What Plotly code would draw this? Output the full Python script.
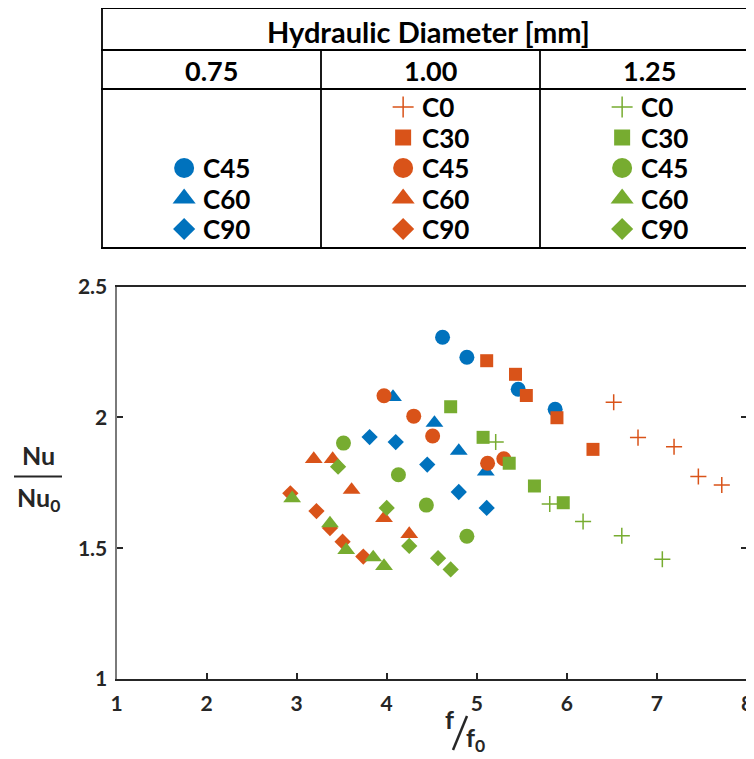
import plotly.graph_objects as go

# ---------------- data ----------------
diameters = ["0.75", "1.00", "1.25"]
configs = ["C0", "C30", "C45", "C60", "C90"]

# Hydraulic diameter 0.75 mm
d075_c45_x = [4.62, 4.89, 5.46, 5.87]
d075_c45_y = [2.307, 2.230, 2.108, 2.031]
d075_c60_x = [4.07, 4.53, 4.80, 5.10]
d075_c60_y = [2.078, 1.979, 1.872, 1.793]
d075_c90_x = [3.81, 4.10, 4.45, 4.80, 5.11]
d075_c90_y = [1.925, 1.906, 1.820, 1.715, 1.654]

# Hydraulic diameter 1.00 mm
d100_c0_x = [6.52, 6.79, 7.19, 7.46, 7.72]
d100_c0_y = [2.058, 1.923, 1.888, 1.774, 1.742]
d100_c30_x = [5.11, 5.43, 5.55, 5.89, 6.29]
d100_c30_y = [2.217, 2.165, 2.084, 1.999, 1.878]
d100_c45_x = [3.97, 4.30, 4.51, 5.12, 5.30]
d100_c45_y = [2.083, 2.005, 1.929, 1.825, 1.842]
d100_c60_x = [3.19, 3.40, 3.61, 3.97, 4.25]
d100_c60_y = [1.841, 1.841, 1.723, 1.615, 1.554]
d100_c90_x = [2.93, 3.22, 3.37, 3.51, 3.74]
d100_c90_y = [1.710, 1.642, 1.577, 1.525, 1.468]

# Hydraulic diameter 1.25 mm
d125_c0_x = [5.21, 5.81, 6.18, 6.61, 7.06]
d125_c0_y = [1.906, 1.669, 1.602, 1.548, 1.458]
d125_c30_x = [4.71, 5.07, 5.36, 5.64, 5.96]
d125_c30_y = [2.041, 1.924, 1.825, 1.738, 1.674]
d125_c45_x = [3.52, 4.13, 4.44, 4.89]
d125_c45_y = [1.902, 1.781, 1.665, 1.546]
d125_c60_x = [2.95, 3.37, 3.55, 3.85, 3.97]
d125_c60_y = [1.691, 1.595, 1.493, 1.465, 1.432]
d125_c90_x = [3.46, 4.00, 4.25, 4.57, 4.71]
d125_c90_y = [1.812, 1.654, 1.509, 1.462, 1.419]

x_ticks = [1, 2, 3, 4, 5, 6, 7, 8]
y_ticks = [1, 1.5, 2, 2.5]
y_ticktext = ["1", "1.5", "2", "2.5"]

# ---------------- styles ----------------
colors = {"0.75": "#0072BD", "1.00": "#D95319", "1.25": "#77AC30"}
symbols = {"C0": "cross-thin-open", "C30": "square", "C45": "circle",
           "C60": "triangle-up", "C90": "diamond"}
plot_sizes = {"C0": 11.5, "C30": 13, "C45": 15, "C60": 15.5, "C90": 12.5}
table_sizes = {"C0": 15, "C30": 16, "C45": 20, "C60": 20, "C90": 17}

series = [
    ("0.75", "C45", d075_c45_x, d075_c45_y),
    ("0.75", "C60", d075_c60_x, d075_c60_y),
    ("0.75", "C90", d075_c90_x, d075_c90_y),
    ("1.00", "C0", d100_c0_x, d100_c0_y),
    ("1.00", "C30", d100_c30_x, d100_c30_y),
    ("1.00", "C45", d100_c45_x, d100_c45_y),
    ("1.00", "C60", d100_c60_x, d100_c60_y),
    ("1.00", "C90", d100_c90_x, d100_c90_y),
    ("1.25", "C0", d125_c0_x, d125_c0_y),
    ("1.25", "C30", d125_c30_x, d125_c30_y),
    ("1.25", "C45", d125_c45_x, d125_c45_y),
    ("1.25", "C60", d125_c60_x, d125_c60_y),
    ("1.25", "C90", d125_c90_x, d125_c90_y),
]

# ---------------- geometry helpers (screen pixels; page body has 8px margin) ----------------
OFF = 8
W, H = 754, 759
ML, MR, MT, MB = 92, 0, 0, 88
PW = W - ML - MR
PH = H - MT - MB


def px(sx):
    return (sx - OFF - ML) / PW


def py(sy):
    return (H - MB - (sy - OFF)) / PH


TXT = "#262626"
FONT = "Lato"

fig = go.Figure()

# main scatter
for d, c, xs, ys in series:
    col = colors[d]
    mk = dict(symbol=symbols[c], size=plot_sizes[c], color=col)
    if c == "C0":
        mk["line"] = dict(color=col, width=1.5)
    else:
        mk["line"] = dict(width=0)
    fig.add_trace(go.Scatter(x=xs, y=ys, mode="markers", marker=mk,
                             name=f"{d} {c}", showlegend=False,
                             xaxis="x", yaxis="y", cliponaxis=False))

# table legend (x2: column index, y2: row index)
COLW = 219.0
ROW0, ROWH = 107, 30.5
annotations = []
for ci, d in enumerate(diameters):
    present = sorted({c for dd, c, _, _ in series if dd == d}, key=configs.index)
    for c in present:
        ri = configs.index(c)
        col = colors[d]
        mk = dict(symbol=symbols[c], size=table_sizes[c], color=col)
        if c == "C0":
            mk["line"] = dict(color=col, width=1.5)
        else:
            mk["line"] = dict(width=0)
        fig.add_trace(go.Scatter(x=[ci + 0.5 - 0.125], y=[ri], mode="markers",
                                 marker=mk, showlegend=False,
                                 xaxis="x2", yaxis="y2", cliponaxis=False))
        annotations.append(dict(x=ci + 0.5 - 0.05, y=ri, xref="x2", yref="y2",
                                text=c, showarrow=False, xanchor="left",
                                yanchor="middle",
                                font=dict(family=FONT, size=26, color="black",
                                          weight="bold")))
    annotations.append(dict(x=ci + 0.5, y=py(70), xref="x2", yref="paper",
                            text=d, showarrow=False, xanchor="center",
                            yanchor="middle",
                            font=dict(family=FONT, size=27, color="black",
                                      weight="bold")))

annotations.append(dict(x=px(428.5), y=py(31), xref="paper", yref="paper",
                        text="Hydraulic Diameter [mm]", showarrow=False,
                        xanchor="center", yanchor="middle",
                        font=dict(family=FONT, size=29, color="black",
                                  weight="bold")))

# axis titles
lab_font = dict(family=FONT, size=25, color=TXT, weight="bold")
annotations += [
    dict(x=px(38), y=py(455), xref="paper", yref="paper", text="Nu",
         showarrow=False, xanchor="center", yanchor="middle", font=lab_font),
    dict(x=px(38), y=py(499), xref="paper", yref="paper", text="Nu<sub>0</sub>",
         showarrow=False, xanchor="center", yanchor="middle", font=lab_font),
    dict(x=px(449), y=py(719), xref="paper", yref="paper", text="f",
         showarrow=False, xanchor="center", yanchor="middle", font=lab_font),
    dict(x=px(475), y=py(758), xref="paper", yref="paper", text="f<sub>0</sub>",
         showarrow=False, xanchor="center", yanchor="bottom", font=lab_font),
]

shapes = []
LW = 1.8
# table grid
for yy in (8, 50, 89, 248):
    shapes.append(dict(type="line", xref="paper", yref="paper",
                       x0=px(101), x1=px(770), y0=py(yy), y1=py(yy),
                       line=dict(color="black", width=LW)))
shapes.append(dict(type="line", xref="paper", yref="paper",
                   x0=px(102), x1=px(102), y0=py(8), y1=py(248),
                   line=dict(color="black", width=LW)))
for xx in (321, 540):
    shapes.append(dict(type="line", xref="paper", yref="paper",
                       x0=px(xx), x1=px(xx), y0=py(50), y1=py(248),
                       line=dict(color="black", width=LW)))
# fraction bar & slash
shapes.append(dict(type="line", xref="paper", yref="paper",
                   x0=px(14), x1=px(62), y0=py(476.5), y1=py(476.5),
                   line=dict(color=TXT, width=2.2)))
shapes.append(dict(type="line", xref="paper", yref="paper",
                   x0=px(453), x1=px(467), y0=py(750), y1=py(716),
                   line=dict(color=TXT, width=2.5)))

tick_font = dict(family=FONT, size=21, color=TXT, weight="bold")

fig.update_layout(
    width=W, height=H,
    margin=dict(l=ML, r=MR, t=MT, b=MB, pad=0, autoexpand=False),
    paper_bgcolor="white", plot_bgcolor="white",
    showlegend=False,
    xaxis=dict(domain=[px(116.5), px(747)], range=[1, 8], tickvals=x_ticks,
               ticks="inside", ticklen=6, tickwidth=2, tickcolor=TXT,
               showline=True, linecolor=TXT, linewidth=2, mirror=True,
               showgrid=False, zeroline=False, tickfont=tick_font,
               ticklabelstandoff=5, automargin=False, anchor="y"),
    yaxis=dict(domain=[0, py(286.7)], range=[1, 2.5], tickvals=y_ticks,
               ticktext=y_ticktext,
               ticks="inside", ticklen=6, tickwidth=2, tickcolor=TXT,
               showline=True, linecolor="#7a7a7a", linewidth=2, mirror="ticks",
               showgrid=False, zeroline=False, tickfont=tick_font,
               ticklabelstandoff=3, automargin=False, anchor="x"),
    xaxis2=dict(domain=[px(102), 1], range=[0, (PW + ML + OFF - 102) / COLW],
                visible=False, showgrid=False, zeroline=False,
                automargin=False, anchor="y2"),
    yaxis2=dict(domain=[py(248), min(1.0, py(8))],
                range=[(248 - ROW0) / ROWH, (8 - ROW0) / ROWH],
                visible=False, showgrid=False, zeroline=False,
                automargin=False, anchor="x2"),
    annotations=annotations,
    shapes=shapes,
)

fig.write_html("out.html")
